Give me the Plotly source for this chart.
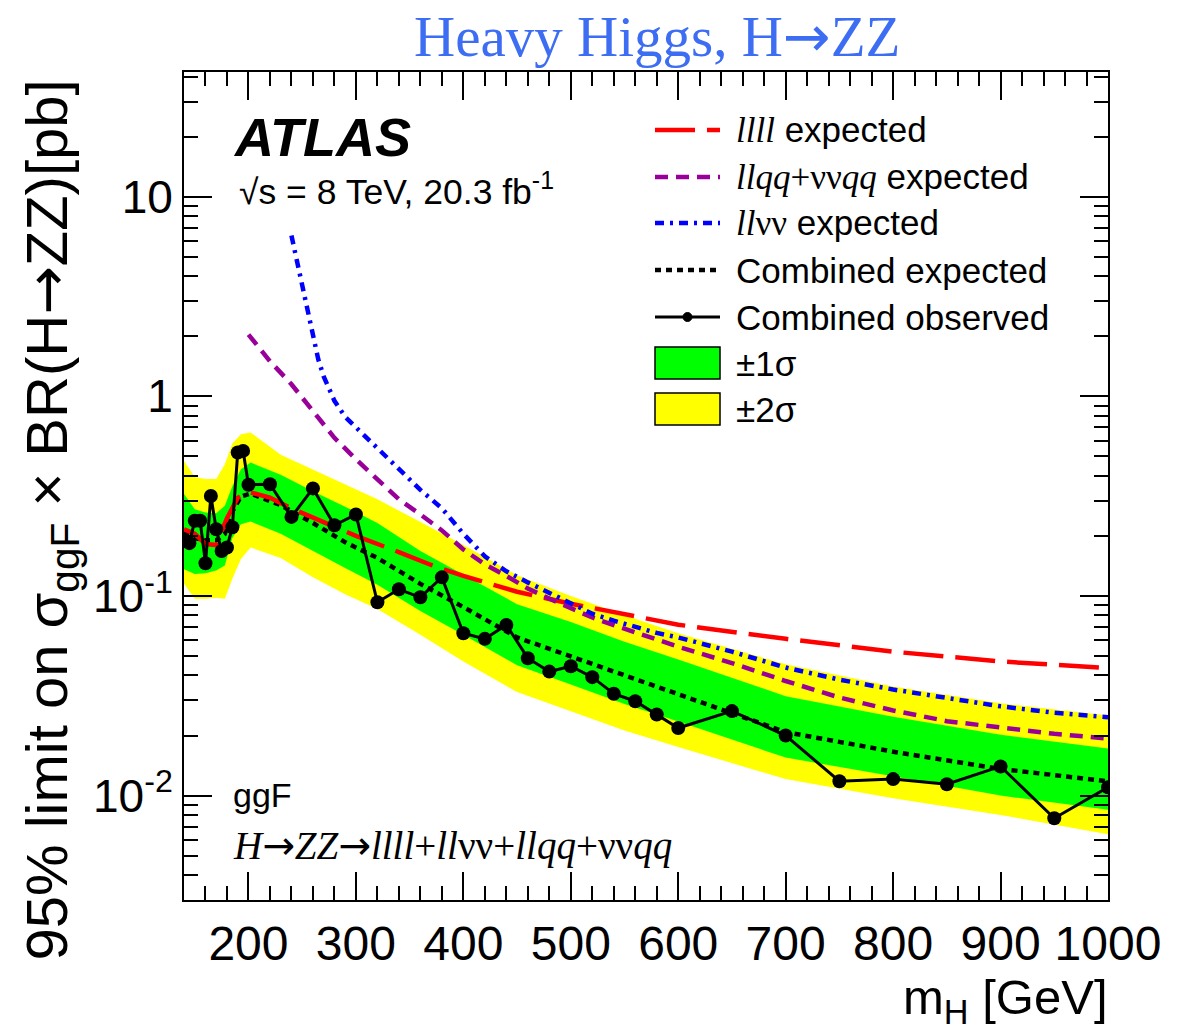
import plotly.graph_objects as go

# ---------------- data ----------------
# Combined observed 95% CL limit on sigma_ggF x BR(H->ZZ) [pb]
obs_mass = [140, 145, 150, 155, 160, 165, 170, 175, 180, 185, 190, 195, 200,
            220, 240, 260, 280, 300, 320, 340, 360, 380, 400, 420, 440, 460,
            480, 500, 520, 540, 560, 580, 600, 650, 700, 750, 800, 850, 900,
            950, 1000]
obs_limit = [0.189, 0.184, 0.238, 0.238, 0.146, 0.317, 0.216, 0.168, 0.175,
             0.221, 0.523, 0.533, 0.361, 0.363, 0.249, 0.346, 0.226, 0.256,
             0.093, 0.108, 0.0985, 0.124, 0.0651, 0.0610, 0.0716, 0.0488,
             0.0418, 0.0445, 0.0392, 0.0324, 0.0297, 0.0255, 0.0218, 0.0265,
             0.0200, 0.0118, 0.0121, 0.0114, 0.0140, 0.0077, 0.0110]

# Combined expected limit with +-1 sigma and +-2 sigma bands
exp_mass = [140, 150, 160, 170, 178, 185, 193, 202, 230, 260, 290, 320, 360,
            400, 450, 500, 550, 600, 700, 800, 900, 1000]
exp_limit = [0.21, 0.195, 0.19, 0.19, 0.205, 0.265, 0.315, 0.326, 0.285,
             0.232, 0.186, 0.155, 0.115, 0.088, 0.062, 0.050, 0.0398, 0.0322,
             0.0208, 0.0166, 0.0136, 0.0118]
sig1_lo = [0.136, 0.129, 0.130, 0.134, 0.142, 0.195, 0.229, 0.236, 0.205,
           0.168, 0.138, 0.114, 0.084, 0.064, 0.045, 0.036, 0.0288, 0.0235,
           0.0155, 0.0125, 0.0100, 0.0085]
sig1_hi = [0.324, 0.272, 0.262, 0.260, 0.283, 0.355, 0.432, 0.466, 0.405,
           0.335, 0.280, 0.232, 0.168, 0.128, 0.091, 0.074, 0.059, 0.048,
           0.0315, 0.0248, 0.0202, 0.0172]
sig2_lo = [0.115, 0.097, 0.097, 0.098, 0.097, 0.122, 0.153, 0.175, 0.155,
           0.124, 0.102, 0.086, 0.064, 0.047, 0.033, 0.0265, 0.0212, 0.0175,
           0.0121, 0.0097, 0.0080, 0.0064]
sig2_hi = [0.475, 0.394, 0.385, 0.385, 0.457, 0.58, 0.646, 0.66, 0.51,
           0.43, 0.363, 0.305, 0.235, 0.18, 0.127, 0.100, 0.080, 0.065,
           0.0455, 0.0352, 0.0290, 0.0252]

# llll channel expected
llll_mass = [140, 150, 160, 170, 180, 190, 200, 220, 240, 260, 280, 300, 340,
             370, 400, 420, 450, 500, 550, 600, 700, 800, 900, 1000]
llll_exp = [0.216, 0.205, 0.182, 0.18, 0.245, 0.31, 0.332, 0.311, 0.275,
            0.248, 0.222, 0.200, 0.166, 0.143, 0.126, 0.117, 0.105, 0.0915,
            0.081, 0.0718, 0.061, 0.0526, 0.047, 0.0435]

# llqq + vvqq channels expected
llqq_mass = [200, 220, 240, 260, 280, 300, 320, 340, 360, 380, 400, 420, 440,
             460, 480, 500, 520, 540, 560, 580, 600, 650, 700, 750, 800, 850,
             900, 950, 1000]
llqq_exp = [2.04, 1.50, 1.15, 0.845, 0.62, 0.484, 0.385, 0.305, 0.256, 0.213,
            0.171, 0.144, 0.126, 0.109, 0.097, 0.087, 0.078, 0.0715, 0.0658,
            0.0602, 0.0557, 0.0461, 0.0375, 0.0310, 0.0267, 0.0236, 0.0218,
            0.0204, 0.0193]

# llvv channel expected
llvv_mass = [240, 245, 250, 255, 260, 265, 270, 280, 290, 300, 320, 340, 360,
             380, 400, 420, 440, 460, 480, 500, 520, 540, 560, 580, 600, 650,
             700, 750, 800, 850, 900, 950, 1000]
llvv_exp = [6.4, 4.85, 3.6, 2.72, 2.0, 1.53, 1.26, 0.95, 0.79, 0.70, 0.543,
            0.43, 0.34, 0.275, 0.205, 0.158, 0.133, 0.117, 0.104, 0.092,
            0.0815, 0.0752, 0.0698, 0.0653, 0.062, 0.0526, 0.0438, 0.0381,
            0.034, 0.0308, 0.028, 0.026, 0.0247]

x_ticks = [200, 300, 400, 500, 600, 700, 800, 900, 1000]
y_ticks = [0.01, 0.1, 1, 10]
y_ticktext = ["10<sup>-2</sup>", "10<sup>-1</sup>", "1", "10"]

# ---------------- styling ----------------
SANS = "Liberation Sans, Arial, Helvetica, sans-serif"
SERIF = "Liberation Serif, Times New Roman, serif"
GREEN = "#00FF00"
YELLOW = "#FFFF00"
RED = "#FF0000"
PURPLE = "#990099"
BLUE = "#0000FF"
ARROW = "<span style='font-family:DejaVu Sans'>→</span>"
SER = "<span style='font-family:Liberation Serif'>"

DASH_COMB = "6px,5px"
DASH_LLLL = "40px,12px"
DASH_LLQQ = "13px,8px"
DASH_LLVV = "9px,6px,3px,6px"
LW = 4.5

W, H = 1196, 1035
L, R, T, B = 184, 88, 72, 135
PW, PH = W - L - R, H - T - B


def px(x):
    return (x - L) / PW


def py(y):
    return (H - B - y) / PH


fig = go.Figure()

# +-2 sigma band
fig.add_trace(go.Scatter(x=exp_mass, y=sig2_lo, mode="lines",
                         line=dict(width=0), hoverinfo="skip", showlegend=False))
fig.add_trace(go.Scatter(x=exp_mass, y=sig2_hi, mode="lines", fill="tonexty",
                         fillcolor=YELLOW, line=dict(width=0), showlegend=False))
# +-1 sigma band
fig.add_trace(go.Scatter(x=exp_mass, y=sig1_lo, mode="lines",
                         line=dict(width=0), hoverinfo="skip", showlegend=False))
fig.add_trace(go.Scatter(x=exp_mass, y=sig1_hi, mode="lines", fill="tonexty",
                         fillcolor=GREEN, line=dict(width=0), showlegend=False))

# expected curves
fig.add_trace(go.Scatter(x=exp_mass, y=exp_limit, mode="lines",
                         line=dict(color="black", width=LW, dash=DASH_COMB),
                         showlegend=False))
fig.add_trace(go.Scatter(x=llll_mass, y=llll_exp, mode="lines",
                         line=dict(color=RED, width=LW, dash=DASH_LLLL),
                         showlegend=False))
fig.add_trace(go.Scatter(x=llqq_mass, y=llqq_exp, mode="lines",
                         line=dict(color=PURPLE, width=LW, dash=DASH_LLQQ),
                         showlegend=False))
fig.add_trace(go.Scatter(x=llvv_mass, y=llvv_exp, mode="lines",
                         line=dict(color=BLUE, width=LW, dash=DASH_LLVV),
                         showlegend=False))

# observed
fig.add_trace(go.Scatter(x=obs_mass, y=obs_limit, mode="lines+markers",
                         line=dict(color="black", width=3),
                         marker=dict(color="black", size=14),
                         showlegend=False))

# ---------------- legend (drawn by hand, ROOT style) ----------------
shapes = []
annotations = []
sx0, sx1, tx = 655, 720, 734
rows = [130, 177, 223, 270, 317, 363, 409]
legend_fs = 35

line_entries = [
    (RED, DASH_LLLL, SER + "<i>llll</i></span> expected"),
    (PURPLE, DASH_LLQQ, SER + "<i>llqq</i>+νν<i>qq</i></span> expected"),
    (BLUE, DASH_LLVV, SER + "<i>ll</i>νν</span> expected"),
    ("black", DASH_COMB, "Combined expected"),
]
for (col, dash, txt), ry in zip(line_entries, rows[:4]):
    shapes.append(dict(type="line", xref="paper", yref="paper",
                       x0=px(sx0), x1=px(sx1), y0=py(ry), y1=py(ry),
                       line=dict(color=col, width=LW, dash=dash)))
    annotations.append(dict(xref="paper", yref="paper", x=px(tx), y=py(ry),
                            xanchor="left", yanchor="middle", text=txt,
                            showarrow=False,
                            font=dict(family=SANS, size=legend_fs, color="black")))

ry = rows[4]
shapes.append(dict(type="line", xref="paper", yref="paper",
                   x0=px(sx0), x1=px(sx1), y0=py(ry), y1=py(ry),
                   line=dict(color="black", width=3)))
shapes.append(dict(type="circle", xref="paper", yref="paper",
                   x0=px(683), x1=px(692), y0=py(ry + 4.5), y1=py(ry - 4.5),
                   fillcolor="black", line=dict(color="black", width=1)))
annotations.append(dict(xref="paper", yref="paper", x=px(tx), y=py(ry),
                        xanchor="left", yanchor="middle", text="Combined observed",
                        showarrow=False,
                        font=dict(family=SANS, size=legend_fs, color="black")))

for col, txt, ry in [(GREEN, "±1σ", rows[5]), (YELLOW, "±2σ", rows[6])]:
    shapes.append(dict(type="rect", xref="paper", yref="paper",
                       x0=px(sx0), x1=px(sx1), y0=py(ry + 16), y1=py(ry - 16),
                       fillcolor=col, line=dict(color="black", width=1.5)))
    annotations.append(dict(xref="paper", yref="paper", x=px(tx), y=py(ry),
                            xanchor="left", yanchor="middle", text=txt,
                            showarrow=False,
                            font=dict(family=SANS, size=legend_fs, color="black")))

# ---------------- labels ----------------
annotations += [
    dict(xref="paper", yref="paper", x=px(231), y=py(137), xanchor="left",
         yanchor="middle", showarrow=False,
         text="<b><i>ATLAS</i></b>", font=dict(family=SANS, size=54, color="black")),
    dict(xref="paper", yref="paper", x=px(237), y=py(190), xanchor="left",
         yanchor="middle", showarrow=False,
         text="√s = 8 TeV, 20.3 fb<sup>-1</sup>",
         font=dict(family=SANS, size=35.5, color="black")),
    dict(xref="paper", yref="paper", x=px(231), y=py(795), xanchor="left",
         yanchor="middle", showarrow=False, text="ggF",
         font=dict(family=SANS, size=34, color="black")),
    dict(xref="paper", yref="paper", x=px(231), y=py(845), xanchor="left",
         yanchor="middle", showarrow=False,
         text="<i>H</i>" + ARROW + "<i>ZZ</i>" + ARROW
              + "<i>llll</i>+<i>ll</i>νν+<i>llqq</i>+νν<i>qq</i>",
         font=dict(family=SERIF, size=39, color="black")),
    # axis titles
    dict(xref="paper", yref="paper", x=px(1110), y=py(1000), xanchor="right",
         yanchor="middle", showarrow=False, text="m<sub>H</sub> [GeV]",
         font=dict(family=SANS, size=49, color="black")),
    dict(xref="paper", yref="paper", x=px(50), y=py(78), xanchor="center",
         yanchor="top", showarrow=False, textangle=-90,
         text="95% limit on σ<sub>ggF</sub> × BR(H" + ARROW + "ZZ)[pb]",
         font=dict(family=SANS, size=58, color="black")),
    # page heading
    dict(xref="paper", yref="paper", x=px(657), y=py(36), xanchor="center",
         yanchor="middle", showarrow=False,
         text="Heavy Higgs, H" + ARROW + "ZZ",
         font=dict(family=SERIF, size=57, color="#3D6DF2")),
]

minor_y = [k * 10.0 ** n for n in range(-3, 2) for k in range(2, 10)]

fig.update_layout(
    width=W, height=H,
    margin=dict(l=L, r=R, t=T, b=B),
    paper_bgcolor="white", plot_bgcolor="white",
    showlegend=False,
    shapes=shapes,
    annotations=annotations,
    xaxis=dict(
        range=[140, 1000], showgrid=False, zeroline=False,
        showline=True, linecolor="black", linewidth=2, mirror="ticks",
        ticks="inside", ticklen=28, tickwidth=1.5, tickcolor="black",
        tickvals=x_ticks, ticktext=[str(v) for v in x_ticks],
        tickfont=dict(family=SANS, size=48, color="black"),
        minor=dict(ticks="inside", ticklen=14, tickwidth=1.5,
                   tickcolor="black", dtick=20, tick0=0, showgrid=False),
    ),
    yaxis=dict(
        type="log", range=[-2.523, 1.625], showgrid=False, zeroline=False,
        showline=True, linecolor="black", linewidth=2, mirror="ticks",
        ticks="inside", ticklen=28, tickwidth=1.5, tickcolor="black",
        tickvals=y_ticks, ticktext=y_ticktext,
        tickfont=dict(family=SANS, size=46, color="black"),
        minor=dict(ticks="inside", ticklen=14, tickwidth=1.5,
                   tickcolor="black", tickvals=minor_y, showgrid=False),
    ),
)

fig.write_html("out.html")
